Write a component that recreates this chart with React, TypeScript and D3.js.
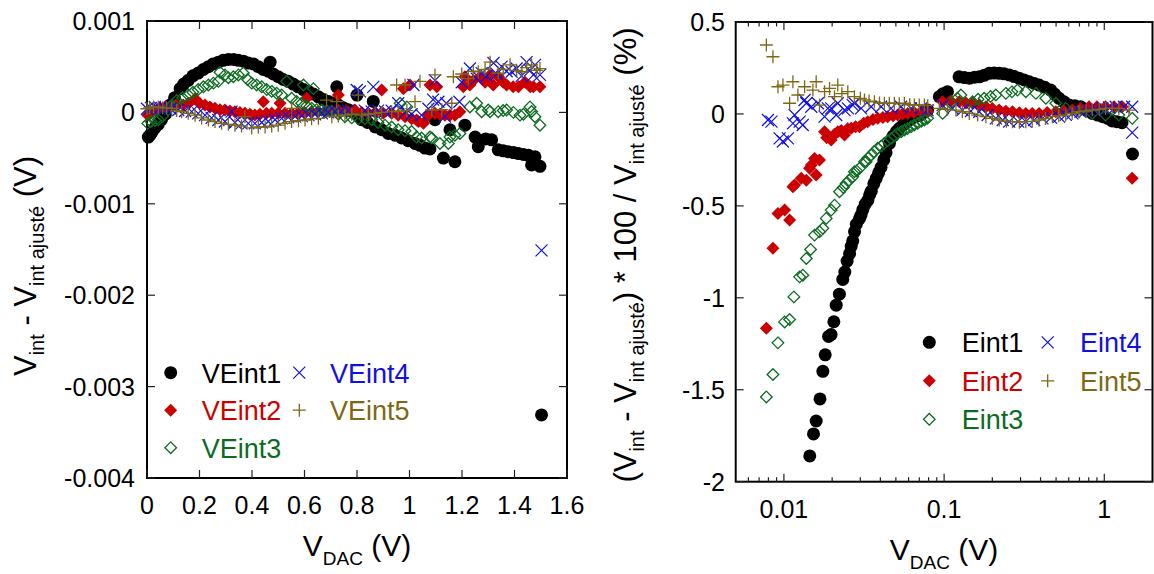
import React from 'react';
import * as d3 from 'd3';

type Pt = [number, number];

// ---------- Left panel: V_int - V_int ajusté (V) vs V_DAC (V) ----------
const VEINT1: Pt[] = [[0.005,-0.00027],[0.011,-0.00025],[0.02,-0.00021],[0.03,-0.00017],[0.043,-0.00013],[0.055,-0.00008],[0.07,-0.00002],[0.088,0.00008],[0.105,0.00016],[0.126,0.00026],[0.14,0.00031],[0.157,0.00035],[0.175,0.0004],[0.195,0.00043],[0.215,0.00047],[0.234,0.0005],[0.252,0.00053],[0.272,0.00055],[0.29,0.00057],[0.31,0.00058],[0.33,0.00058],[0.348,0.00057],[0.367,0.00056],[0.386,0.00054],[0.405,0.00053],[0.424,0.0005],[0.443,0.00047],[0.462,0.00045],[0.469,0.00055],[0.481,0.00042],[0.5,0.00039],[0.519,0.00036],[0.538,0.00034],[0.557,0.00031],[0.576,0.00028],[0.596,0.00025],[0.615,0.00023],[0.634,0.0002],[0.653,0.00017],[0.672,0.00014],[0.691,0.00012],[0.71,0.0001],[0.723,0.00028],[0.729,0.00008],[0.748,0.00005],[0.767,0.00003],[0.786,0.0],[0.8,0.00019],[0.805,-0.00003],[0.818,-0.00008],[0.84,-0.00011],[0.862,0.00012],[0.869,-0.00016],[0.894,-0.00019],[0.919,-0.00023],[0.945,-0.00025],[0.97,-0.00028],[0.995,-0.00031],[1.021,-0.00034],[1.04,-0.00036],[1.059,-0.00039],[1.078,-0.0004],[1.097,-0.00008],[1.129,-0.0005],[1.154,-0.00019],[1.173,-0.00054],[1.211,-0.00014],[1.25,-0.00027],[1.262,-0.000375],[1.29,-0.00029],[1.313,-0.0003],[1.338,-0.00041],[1.357,-0.00042],[1.376,-0.00043],[1.396,-0.00044],[1.415,-0.00045],[1.434,-0.00046],[1.453,-0.00047],[1.465,-0.000575],[1.478,-0.000485],[1.497,-0.00059],[1.503,-0.00331]];
const VEINT2: Pt[] = [[0.003,-0.00003],[0.015,0.0],[0.03,0.00002],[0.05,0.00005],[0.069,0.00006],[0.09,0.00007],[0.11,0.00008],[0.138,0.00008],[0.16,0.0001],[0.183,0.00015],[0.2,0.0001],[0.221,0.00008],[0.24,0.00006],[0.259,0.000045],[0.278,0.00003],[0.297,0.000026],[0.316,0.000015],[0.335,0.000008],[0.354,0.0],[0.373,-0.00001],[0.392,-0.00002],[0.411,-0.000028],[0.43,-0.00002],[0.443,0.000117],[0.455,-0.00001],[0.475,-0.00001],[0.5,-0.00001],[0.507,0.0001],[0.526,-0.00001],[0.551,-0.00001],[0.576,-0.00001],[0.6,0.0],[0.608,0.000154],[0.627,0.000008],[0.652,0.000008],[0.678,0.000008],[0.704,0.000015],[0.729,0.00019],[0.73,0.00002],[0.76,0.00002],[0.792,0.000026],[0.818,0.0],[0.843,-0.00001],[0.869,0.0],[0.894,0.000245],[0.9,-0.00001],[0.932,-0.00001],[0.957,-0.00003],[0.977,0.00026],[0.983,-0.000047],[1.002,0.0003],[1.008,-0.00007],[1.027,-0.000083],[1.034,-0.0001],[1.053,-0.00012],[1.072,-0.00003],[1.078,0.0003],[1.097,-0.00001],[1.104,0.00028],[1.116,-0.00002],[1.135,-0.00003],[1.154,-0.00003],[1.173,-0.00003],[1.192,0.000008],[1.205,0.00028],[1.211,0.00039],[1.23,0.0003],[1.243,0.00035],[1.269,0.00039],[1.288,0.00033],[1.307,0.00041],[1.319,0.0003],[1.338,0.00039],[1.357,0.00033],[1.37,0.0003],[1.395,0.00028],[1.415,0.00028],[1.44,0.00033],[1.46,0.00028],[1.472,0.00028],[1.497,0.00028]];
const VEINT3: Pt[] = [[0.003,-0.00012],[0.015,-0.0001],[0.03,-0.00009],[0.043,-0.00008],[0.06,-0.00004],[0.08,0.00003],[0.095,0.00008],[0.113,0.00013],[0.135,0.00016],[0.157,0.00019],[0.175,0.00022],[0.195,0.00025],[0.215,0.00028],[0.234,0.0003],[0.253,0.00032],[0.272,0.00034],[0.278,0.00044],[0.297,0.00041],[0.31,0.00038],[0.329,0.00039],[0.348,0.00041],[0.367,0.00043],[0.383,0.00036],[0.399,0.00032],[0.418,0.0003],[0.437,0.00028],[0.456,0.00025],[0.475,0.00023],[0.494,0.00021],[0.513,0.00019],[0.532,0.00034],[0.551,0.000155],[0.57,0.00012],[0.589,0.0001],[0.596,0.0003],[0.608,0.00007],[0.627,0.000045],[0.634,0.00026],[0.646,0.00003],[0.666,0.000026],[0.685,0.000015],[0.704,0.000008],[0.729,-0.00002],[0.754,-0.000047],[0.78,-0.00006],[0.805,-0.00007],[0.83,-0.00007],[0.856,-0.00008],[0.88,-0.00011],[0.907,-0.00014],[0.932,-0.00016],[0.957,-0.00019],[0.964,0.0001],[0.99,0.00006],[0.983,-0.0002],[1.008,-0.00021],[1.027,-0.00027],[1.046,-0.00028],[1.078,-0.00027],[1.085,-0.00028],[1.116,-0.00034],[1.148,-0.00034],[1.154,-0.00027],[1.173,-0.00025],[1.192,-0.00023],[1.23,0.00006],[1.256,0.0001],[1.275,0.000008],[1.3,0.000026],[1.307,0.000008],[1.338,0.000008],[1.357,0.00002],[1.37,0.000026],[1.396,0.0],[1.421,-0.00003],[1.434,-0.00002],[1.459,0.00006],[1.465,0.00001],[1.478,-0.000047],[1.497,-0.00014]];
const VEINT4: Pt[] = [[0.0,0.00004],[0.015,0.00005],[0.03,0.00006],[0.05,0.00005],[0.069,0.000045],[0.09,0.00004],[0.119,0.000026],[0.145,0.000015],[0.17,0.000008],[0.195,-0.00001],[0.221,-0.00003],[0.246,-0.00006],[0.272,-0.000083],[0.297,-0.0001],[0.322,0.000008],[0.335,-0.00011],[0.36,-0.00012],[0.386,-0.00012],[0.411,-0.00012],[0.437,-0.00011],[0.462,-0.0001],[0.488,-0.00008],[0.513,-0.000065],[0.538,-0.000055],[0.564,-0.000047],[0.59,-0.00004],[0.615,-0.00003],[0.64,-0.00002],[0.666,-0.00001],[0.69,0.0],[0.716,0.000008],[0.74,0.00001],[0.766,0.00002],[0.799,0.000245],[0.811,0.00023],[0.83,0.00002],[0.856,0.000008],[0.862,0.00028],[0.88,0.00002],[0.907,0.00001],[0.932,0.00002],[0.957,0.0001],[0.983,0.0],[1.008,-0.00002],[1.015,0.0003],[1.046,-0.00003],[1.072,0.00004],[1.09,0.00014],[1.097,0.00035],[1.11,0.000117],[1.135,-0.000047],[1.14,0.0001],[1.19,0.000117],[1.199,0.00033],[1.23,0.00048],[1.256,0.00037],[1.275,0.00043],[1.294,0.0004],[1.32,0.00054],[1.332,0.00042],[1.351,0.0005],[1.37,0.00045],[1.389,0.000445],[1.408,0.00048],[1.427,0.0004],[1.446,0.00055],[1.459,0.00046],[1.478,0.00052],[1.472,0.00041],[1.497,0.00041],[1.503,-0.00151]];
const VEINT5: Pt[] = [[0.0,0.00004],[0.01,0.00005],[0.025,0.00006],[0.043,0.00006],[0.06,0.00005],[0.075,0.00005],[0.094,0.000045],[0.113,0.00002],[0.132,0.000008],[0.157,-0.00001],[0.183,-0.00003],[0.208,-0.00006],[0.234,-0.000083],[0.259,-0.0001],[0.284,-0.00012],[0.31,-0.00013],[0.335,-0.00014],[0.36,-0.00015],[0.373,-0.000047],[0.399,-0.00017],[0.424,-0.00016],[0.45,-0.00016],[0.475,-0.00015],[0.5,-0.00014],[0.526,-0.00012],[0.551,0.000045],[0.551,-0.0001],[0.577,-0.00009],[0.602,-0.000083],[0.627,-0.00007],[0.653,-0.000065],[0.684,0.000135],[0.704,-0.000047],[0.723,0.000117],[0.729,-0.00004],[0.754,-0.00003],[0.78,-0.00002],[0.805,0.00019],[0.818,-0.00003],[0.843,-0.00002],[0.869,-0.00001],[0.894,0.0],[0.932,0.000008],[0.951,0.0003],[0.957,0.00001],[0.983,0.0003],[0.99,0.00002],[1.021,0.000117],[1.04,0.00034],[1.085,0.000026],[1.097,0.00041],[1.123,0.00003],[1.161,0.0001],[1.167,0.00039],[1.199,0.00042],[1.224,0.00037],[1.243,0.00045],[1.262,0.000445],[1.288,0.00047],[1.307,0.00055],[1.338,0.00043],[1.357,0.00047],[1.383,0.00052],[1.408,0.00046],[1.428,0.000445],[1.446,0.00049],[1.465,0.00052],[1.484,0.00046],[1.497,0.00048]];

// ---------- Right panel: relative error (%) vs V_DAC (V), log x ----------
const EINT1: Pt[] = [[0.0145,-1.86],[0.0153,-1.74],[0.0159,-1.67],[0.0168,-1.55],[0.0175,-1.4],[0.0181,-1.31],[0.019,-1.21],[0.0197,-1.2],[0.0205,-1.13],[0.0212,-1.04],[0.0222,-0.98],[0.0233,-0.9],[0.024,-0.86],[0.0248,-0.8],[0.0257,-0.76],[0.0263,-0.72],[0.0269,-0.69],[0.0276,-0.64],[0.0283,-0.6],[0.0296,-0.57],[0.0303,-0.55],[0.0311,-0.52],[0.0322,-0.49],[0.0334,-0.47],[0.0343,-0.44],[0.0351,-0.42],[0.0364,-0.38],[0.0377,-0.35],[0.039,-0.32],[0.0404,-0.29],[0.042,-0.25],[0.0434,-0.21],[0.0456,-0.16],[0.048,-0.12],[0.0505,-0.095],[0.0526,-0.078],[0.0555,-0.06],[0.058,-0.045],[0.0607,-0.033],[0.0635,-0.022],[0.067,-0.012],[0.0701,-0.006],[0.074,0.005],[0.079,0.021],[0.0934,0.094],[0.0985,0.11],[0.105,0.121],[0.124,0.202],[0.134,0.198],[0.144,0.194],[0.155,0.2],[0.166,0.202],[0.178,0.21],[0.191,0.221],[0.205,0.222],[0.221,0.221],[0.237,0.218],[0.255,0.212],[0.274,0.203],[0.294,0.194],[0.316,0.185],[0.34,0.175],[0.365,0.166],[0.392,0.157],[0.425,0.145],[0.463,0.13],[0.49,0.108],[0.522,0.085],[0.56,0.066],[0.603,0.048],[0.655,0.044],[0.713,0.039],[0.775,0.02],[0.842,0.003],[0.91,-0.006],[0.978,-0.015],[1.05,-0.024],[1.12,-0.038],[1.2,-0.042],[1.29,-0.048],[1.5,-0.218]];
const EINT2: Pt[] = [[0.00777,-1.166],[0.00854,-0.731],[0.00918,-0.541],[0.0101,-0.523],[0.01085,-0.577],[0.01138,-0.396],[0.01166,-0.387],[0.01283,-0.35],[0.0138,-0.36],[0.01446,-0.296],[0.01482,-0.278],[0.01553,-0.242],[0.0159,-0.332],[0.01668,-0.251],[0.01794,-0.097],[0.0185,-0.13],[0.01973,-0.142],[0.0207,-0.11],[0.02169,-0.097],[0.0228,-0.09],[0.02389,-0.115],[0.025,-0.08],[0.0263,-0.078],[0.028,-0.07],[0.02963,-0.07],[0.0315,-0.05],[0.03334,-0.042],[0.036,-0.03],[0.03851,-0.024],[0.0415,-0.02],[0.04446,-0.015],[0.048,-0.01],[0.05133,-0.006],[0.055,0.0],[0.05926,0.003],[0.065,0.008],[0.07178,0.012],[0.07889,0.012],[0.0979,0.066],[0.11,0.07],[0.1244,0.066],[0.137,0.06],[0.1505,0.058],[0.165,0.048],[0.1824,0.039],[0.2,0.03],[0.2208,0.021],[0.243,0.015],[0.2673,0.012],[0.295,0.006],[0.3236,0.003],[0.355,0.003],[0.3917,0.003],[0.44,0.008],[0.4981,0.012],[0.56,0.016],[0.632,0.021],[0.71,0.03],[0.8035,0.039],[0.9,0.039],[1.0187,0.039],[1.15,0.039],[1.294,0.039],[1.494,-0.35]];
const EINT3: Pt[] = [[0.00777,-1.539],[0.00854,-1.417],[0.00918,-1.245],[0.0101,-1.131],[0.01085,-1.118],[0.01154,-0.995],[0.01253,-0.886],[0.01313,-0.877],[0.0138,-0.786],[0.01467,-0.737],[0.01553,-0.659],[0.01668,-0.641],[0.0175,-0.622],[0.01837,-0.568],[0.01973,-0.523],[0.0207,-0.496],[0.02223,-0.423],[0.0235,-0.4],[0.02446,-0.378],[0.0255,-0.36],[0.02692,-0.342],[0.02756,-0.314],[0.0285,-0.31],[0.02963,-0.296],[0.03184,-0.26],[0.0326,-0.26],[0.0335,-0.24],[0.03505,-0.224],[0.0365,-0.205],[0.03851,-0.187],[0.0405,-0.175],[0.04238,-0.16],[0.0445,-0.145],[0.04669,-0.133],[0.049,-0.12],[0.05133,-0.106],[0.054,-0.097],[0.0565,-0.088],[0.059,-0.08],[0.06218,-0.07],[0.065,-0.06],[0.06839,-0.051],[0.072,-0.04],[0.0753,-0.033],[0.07889,-0.024],[0.0979,0.003],[0.11,0.06],[0.121,0.085],[0.1274,0.103],[0.1505,0.066],[0.163,0.08],[0.178,0.085],[0.195,0.095],[0.2104,0.103],[0.243,0.112],[0.265,0.12],[0.2871,0.13],[0.3236,0.121],[0.374,0.112],[0.4317,0.085],[0.4981,0.058],[0.574,0.03],[0.695,0.012],[0.8415,0.003],[1.0187,-0.006],[1.233,-0.006],[1.494,-0.024]];
const EINT4: Pt[] = [[0.00795,-0.033],[0.00836,-0.042],[0.0094,-0.133],[0.00985,-0.15],[0.01059,-0.133],[0.01138,-0.051],[0.01166,-0.006],[0.01253,-0.042],[0.0131,-0.06],[0.01346,0.076],[0.0138,0.058],[0.01482,0.039],[0.01629,0.058],[0.01794,-0.015],[0.0188,0.03],[0.01973,0.03],[0.0212,-0.006],[0.02169,0.058],[0.02389,0.021],[0.0251,0.03],[0.02692,0.048],[0.0276,0.058],[0.03034,0.03],[0.03505,0.039],[0.04045,0.039],[0.04669,0.03],[0.05387,0.039],[0.06218,0.03],[0.07178,0.03],[0.07889,0.021],[0.0979,0.048],[0.113,0.03],[0.1303,0.021],[0.147,0.015],[0.1656,0.012],[0.187,-0.006],[0.2104,-0.024],[0.232,-0.033],[0.2548,-0.042],[0.29,-0.042],[0.3236,-0.042],[0.365,-0.033],[0.4111,-0.024],[0.465,-0.02],[0.5224,-0.015],[0.575,-0.005],[0.632,0.003],[0.71,0.012],[0.8035,0.021],[0.88,0.025],[0.972,0.03],[1.07,0.035],[1.178,0.039],[1.33,0.039],[1.494,0.039],[1.494,-0.102]];
const EINT5: Pt[] = [[0.00777,0.375],[0.00854,0.311],[0.00918,0.148],[0.00986,0.157],[0.01085,0.058],[0.01138,0.175],[0.01222,0.103],[0.01346,0.148],[0.01517,0.13],[0.0159,0.175],[0.01668,0.048],[0.01794,0.121],[0.01927,0.139],[0.0207,0.094],[0.02169,0.157],[0.023,0.11],[0.02505,0.121],[0.02756,0.094],[0.03,0.085],[0.03184,0.076],[0.034,0.07],[0.03673,0.066],[0.0395,0.06],[0.04238,0.058],[0.0455,0.058],[0.04894,0.058],[0.0525,0.055],[0.0565,0.058],[0.061,0.05],[0.06521,0.048],[0.07,0.048],[0.0753,0.048],[0.079,0.045],[0.0934,0.03],[0.105,0.025],[0.1186,0.021],[0.13,0.012],[0.1436,0.003],[0.162,-0.006],[0.1824,-0.015],[0.2,-0.024],[0.2208,-0.033],[0.245,-0.04],[0.2673,-0.042],[0.295,-0.045],[0.3236,-0.042],[0.355,-0.04],[0.3917,-0.033],[0.43,-0.025],[0.4742,-0.015],[0.52,-0.01],[0.574,-0.006],[0.63,0.003],[0.695,0.012],[0.77,0.016],[0.8415,0.021],[0.93,0.025],[1.0187,0.03],[1.12,0.03],[1.233,0.03],[1.426,0.021]];

const LEFT_X_TICKS = [0, 0.2, 0.4, 0.6, 0.8, 1, 1.2, 1.4, 1.6];
const LEFT_X_LABELS = ['0', '0.2', '0.4', '0.6', '0.8', '1', '1.2', '1.4', '1.6'];
const LEFT_Y_TICKS = [0.001, 0, -0.001, -0.002, -0.003, -0.004];
const LEFT_Y_LABELS = ['0.001', '0', '-0.001', '-0.002', '-0.003', '-0.004'];
const RIGHT_X_MAJOR = [0.01, 0.1, 1];
const RIGHT_X_LABELS = ['0.01', '0.1', '1'];
const RIGHT_X_MINOR = [0.006, 0.007, 0.008, 0.009, 0.02, 0.03, 0.04, 0.05, 0.06, 0.07, 0.08, 0.09, 0.2, 0.3, 0.4, 0.5, 0.6, 0.7, 0.8, 0.9];
const RIGHT_Y_TICKS = [0.5, 0, -0.5, -1, -1.5, -2];
const RIGHT_Y_LABELS = ['0.5', '0', '-0.5', '-1', '-1.5', '-2'];

const LEFT_NAMES = ['VEint1', 'VEint2', 'VEint3', 'VEint4', 'VEint5'];
const RIGHT_NAMES = ['Eint1', 'Eint2', 'Eint3', 'Eint4', 'Eint5'];

const COLORS = ['#000000', '#cc0000', '#0b6b1f', '#1010e0', '#7d6914'];
const KINDS = ['circle', 'diamond', 'odiamond', 'cross', 'plus'];

const FONT = '"Liberation Sans", Arial, Helvetica, sans-serif';

function Marker({ kind, x, y, color }: { kind: string; x: number; y: number; color: string }) {
  if (kind === 'circle') return <circle cx={x} cy={y} r={6.5} fill={color} />;
  if (kind === 'diamond') {
    const h = 6.5;
    return <path d={`M${x},${y - h}L${x + h},${y}L${x},${y + h}L${x - h},${y}Z`} fill={color} />;
  }
  if (kind === 'odiamond') {
    const h = 5.8;
    return <path d={`M${x},${y - h}L${x + h},${y}L${x},${y + h}L${x - h},${y}Z`} fill="none" stroke={color} strokeWidth={1.3} />;
  }
  if (kind === 'cross') {
    const h = 6;
    return <path d={`M${x - h},${y - h}L${x + h},${y + h}M${x - h},${y + h}L${x + h},${y - h}`} stroke={color} strokeWidth={1.2} fill="none" />;
  }
  const h = 6.5;
  return <path d={`M${x - h},${y}L${x + h},${y}M${x},${y - h}L${x},${y + h}`} stroke={color} strokeWidth={1.3} fill="none" />;
}

const TICK = '#222';

export default function App() {
  // left panel geometry
  const L = { x0: 147, x1: 567, y0: 21, y1: 478 };
  const xL = d3.scaleLinear().domain([0, 1.6]).range([L.x0, L.x1]);
  const yL = d3.scaleLinear().domain([-0.004, 0.001]).range([L.y1, L.y0]);
  // right panel geometry
  const R = { x0: 735.7, x1: 1152.5, y0: 22, y1: 481.7 };
  const xR = d3.scaleLog().domain([0.005, 2]).range([R.x0, R.x1]);
  const yR = d3.scaleLinear().domain([-2, 0.5]).range([R.y1, R.y0]);

  const leftSeries = [VEINT1, VEINT2, VEINT3, VEINT4, VEINT5];
  const rightSeries = [EINT1, EINT2, EINT3, EINT4, EINT5];

  const tickLen = 8;
  const minorLen = 4.5;

  return (
    <svg width={1154} height={574} style={{ position: 'absolute', left: 0, top: 0, background: '#fff' }} fontFamily={FONT}>
      <rect x={0} y={0} width={1154} height={574} fill="#fff" />

      {/* ---------------- LEFT PANEL ---------------- */}
      <g>
        <rect x={L.x0} y={L.y0} width={L.x1 - L.x0} height={L.y1 - L.y0} fill="none" stroke="#000" strokeWidth={2} />
        {LEFT_X_TICKS.map((t, i) => (
          <g key={'lxt' + i}>
            <line x1={xL(t)} x2={xL(t)} y1={L.y1} y2={L.y1 - tickLen} stroke={TICK} strokeWidth={1.2} />
            <line x1={xL(t)} x2={xL(t)} y1={L.y0} y2={L.y0 + tickLen} stroke={TICK} strokeWidth={1.2} />
            <text x={xL(t)} y={514} fontSize={25} textAnchor="middle" fill="#000">{LEFT_X_LABELS[i]}</text>
          </g>
        ))}
        {LEFT_Y_TICKS.map((t, i) => (
          <g key={'lyt' + i}>
            <line x1={L.x0} x2={L.x0 + tickLen} y1={yL(t)} y2={yL(t)} stroke={TICK} strokeWidth={1.2} />
            <line x1={L.x1} x2={L.x1 - tickLen} y1={yL(t)} y2={yL(t)} stroke={TICK} strokeWidth={1.2} />
            <text x={135} y={yL(t) + 9} fontSize={25} textAnchor="end" fill="#000">{LEFT_Y_LABELS[i]}</text>
          </g>
        ))}
        <g>
          {leftSeries.map((s, si) => (
            <g key={'ls' + si}>
              {s.map((p, pi) => (
                <Marker key={pi} kind={KINDS[si]} x={xL(p[0])} y={yL(p[1])} color={COLORS[si]} />
              ))}
            </g>
          ))}
        </g>
        {/* legend */}
        {LEFT_NAMES.map((n, i) => {
          const col = i < 3 ? 0 : 1;
          const row = i < 3 ? i : i - 3;
          const mx = col === 0 ? 170.7 : 299.3;
          const tx = col === 0 ? 201.7 : 330;
          const my = 372.7 + row * 37.5;
          return (
            <g key={'ll' + i}>
              <Marker kind={KINDS[i]} x={mx} y={my} color={COLORS[i]} />
              <text x={tx} y={my + 10} fontSize={27} fill={COLORS[i]}>{n}</text>
            </g>
          );
        })}
        {/* axis titles */}
        <text x={357} y={556} fontSize={30} textAnchor="middle" fill="#000">
          V<tspan fontSize={19} dy={9}>DAC</tspan><tspan dy={-9}> (V)</tspan>
        </text>
        <text transform="translate(36,266) rotate(-90)" fontSize={31} textAnchor="middle" fill="#000">
          V<tspan fontSize={20} dy={8}>int</tspan><tspan dy={-8}> - V</tspan><tspan fontSize={20} dy={8}>int ajusté</tspan><tspan dy={-8}> (V)</tspan>
        </text>
      </g>

      {/* ---------------- RIGHT PANEL ---------------- */}
      <g>
        <rect x={R.x0} y={R.y0} width={R.x1 - R.x0} height={R.y1 - R.y0} fill="none" stroke="#000" strokeWidth={2} />
        {RIGHT_X_MAJOR.map((t, i) => (
          <g key={'rxt' + i}>
            <line x1={xR(t)} x2={xR(t)} y1={R.y1} y2={R.y1 - tickLen} stroke={TICK} strokeWidth={1.2} />
            <line x1={xR(t)} x2={xR(t)} y1={R.y0} y2={R.y0 + tickLen} stroke={TICK} strokeWidth={1.2} />
            <text x={xR(t)} y={518} fontSize={25} textAnchor="middle" fill="#000">{RIGHT_X_LABELS[i]}</text>
          </g>
        ))}
        {RIGHT_X_MINOR.map((t, i) => (
          <g key={'rxm' + i}>
            <line x1={xR(t)} x2={xR(t)} y1={R.y1} y2={R.y1 - minorLen} stroke={TICK} strokeWidth={1.2} />
            <line x1={xR(t)} x2={xR(t)} y1={R.y0} y2={R.y0 + minorLen} stroke={TICK} strokeWidth={1.2} />
          </g>
        ))}
        {RIGHT_Y_TICKS.map((t, i) => (
          <g key={'ryt' + i}>
            <line x1={R.x0} x2={R.x0 + tickLen} y1={yR(t)} y2={yR(t)} stroke={TICK} strokeWidth={1.2} />
            <line x1={R.x1} x2={R.x1 - tickLen} y1={yR(t)} y2={yR(t)} stroke={TICK} strokeWidth={1.2} />
            <text x={725} y={yR(t) + 9} fontSize={25} textAnchor="end" fill="#000">{RIGHT_Y_LABELS[i]}</text>
          </g>
        ))}
        <g>
          {rightSeries.map((s, si) => (
            <g key={'rs' + si}>
              {s.map((p, pi) => (
                <Marker key={pi} kind={KINDS[si]} x={xR(p[0])} y={yR(p[1])} color={COLORS[si]} />
              ))}
            </g>
          ))}
        </g>
        {RIGHT_NAMES.map((n, i) => {
          const col = i < 3 ? 0 : 1;
          const row = i < 3 ? i : i - 3;
          const mx = col === 0 ? 929.3 : 1047.7;
          const tx = col === 0 ? 961.7 : 1080;
          const my = 342.3 + row * 38.5;
          return (
            <g key={'rl' + i}>
              <Marker kind={KINDS[i]} x={mx} y={my} color={COLORS[i]} />
              <text x={tx} y={my + 10} fontSize={27} fill={COLORS[i]}>{n}</text>
            </g>
          );
        })}
        <text x={944} y={560} fontSize={30} textAnchor="middle" fill="#000">
          V<tspan fontSize={19} dy={9}>DAC</tspan><tspan dy={-9}> (V)</tspan>
        </text>
        <text transform="translate(636,255) rotate(-90)" fontSize={31} textAnchor="middle" fill="#000">
          (V<tspan fontSize={20} dy={8}>int</tspan><tspan dy={-8}> - V</tspan><tspan fontSize={20} dy={8}>int ajusté</tspan><tspan dy={-8}>) * 100 / V</tspan><tspan fontSize={20} dy={8}>int ajusté</tspan><tspan dy={-8}> (%)</tspan>
        </text>
      </g>
    </svg>
  );
}
